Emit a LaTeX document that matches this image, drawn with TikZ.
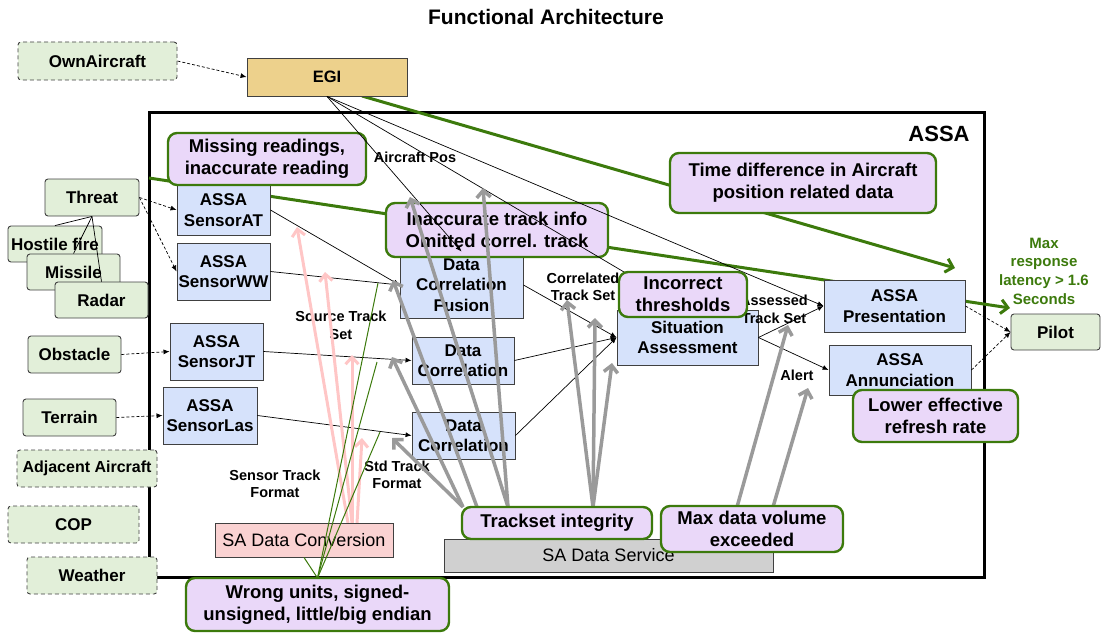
\documentclass[tikz,border=0pt]{standalone}
\usepackage{fontspec}
\setmainfont{Liberation Sans}
\usetikzlibrary{arrows.meta}
\newcommand\myfs[2]{\fontsize{#1}{#2}\selectfont}
\definecolor{lgreen}{HTML}{E2EFD9}
\definecolor{lblue}{HTML}{D6E2FB}
\definecolor{lpurple}{HTML}{EAD8F9}
\definecolor{dgreen}{HTML}{3C7A0C}
\definecolor{egic}{HTML}{EDD18C}
\definecolor{pinkfill}{HTML}{FAD2D2}
\definecolor{sadsc}{HTML}{D0D0D0}
\definecolor{arrgray}{HTML}{9A9A9A}
\definecolor{arrpink}{HTML}{FFC6C6}
\definecolor{bord}{HTML}{404040}
\begin{document}
\begin{tikzpicture}[x=1pt,y=-1pt,
 sz/.style 2 args={minimum width=#1pt,minimum height=#2pt},
 box/.style={draw=bord, line width=0.9pt, inner sep=0pt, align=center, font=\bfseries\myfs{17}{20.5}},
 gbox/.style={box, fill=lgreen, rounded corners=3pt},
 gdash/.style={gbox, dash pattern=on 4pt off 3pt},
 bbox/.style={box, fill=lblue},
 pbox/.style={box, fill=lpurple, draw=dgreen, line width=2.4pt, rounded corners=9pt, font=\bfseries\myfs{18.5}{22}},
 lbl/.style={inner sep=0pt, align=center, font=\bfseries\myfs{14.5}{17.5}},
 conn/.style={draw=black, line width=0.7pt, -{Latex[length=6pt,width=5pt]}},
 dconn/.style={conn, dash pattern=on 3pt off 2pt},
 garr/.style={draw=arrgray, line width=3.5pt, -{Straight Barb[length=7pt,width=14pt]}},
 parr/.style={draw=arrpink, line width=3pt, -{Straight Barb[length=7pt,width=13pt]}},
 gline/.style={draw=dgreen, line width=3pt, -{Straight Barb[length=7pt,width=14pt]}},
 tline/.style={draw=dgreen, line width=1pt},
]
\useasboundingbox (0,0) rectangle (1102,634);
\node[inner sep=0pt, font=\bfseries\myfs{21}{25}] (title) at (546,17) {Functional Architecture};

% frame
\node[draw, line width=3pt, sz={835}{465}, inner sep=0pt] (assa) at (566.5,344.5) {};
\node[inner sep=0pt, font=\bfseries\myfs{22}{26}] (assalbl) at (939,134) {ASSA};

% free coordinates
\coordinate (gs) at (149,178);
\coordinate (ge) at (1010,308);
\coordinate (es) at (362,96);
\coordinate (ee) at (955,268);
\coordinate (t1) at (463,507);
\coordinate (t2) at (477,507);
\coordinate (t3) at (508,507);
\coordinate (t4) at (593,507);
\coordinate (m1) at (737,507);
\coordinate (m2) at (773,507);
\coordinate (ga) at (392,438);
\coordinate (gb) at (392,357);
\coordinate (gc) at (393,280);
\coordinate (gd) at (410,197);
\coordinate (gee) at (483,188);
\coordinate (gf) at (567,300);
\coordinate (gg) at (595,318);
\coordinate (gh) at (612,363);
\coordinate (gi) at (788,325);
\coordinate (gj) at (808,388);
\coordinate (p1s) at (348,523);
\coordinate (p2s) at (352,523);
\coordinate (p4s) at (357,523);
\coordinate (p1) at (297,227);
\coordinate (p2) at (325,272);
\coordinate (p3) at (352,355);
\coordinate (p4) at (362,438);
\coordinate (w1) at (378,283);
\coordinate (w2) at (377,362);
\coordinate (w3) at (380,432);

% thick green lines (behind)
\draw[gline] (gs) -- (ge);
\draw[gline] (es) -- (ee);

% outside nodes
\node[gdash, sz={159}{38}] (own) at (97.5,61) {OwnAircraft};
\node[box, fill=egic, sz={160}{38}, font=\bfseries\myfs{16.5}{20}] (egi) at (327,77) {EGI};
\node[gbox, sz={94}{36}] (hostile) at (55,244) {Hostile fire};
\node[gbox, sz={93}{36}] (missile) at (73.5,272) {Missile};
\node[gbox, sz={93}{36}] (radar) at (101.5,300) {Radar};
\node[gbox, sz={94}{37}] (threat) at (92,197.5) {Threat};
\node[gbox, sz={93}{37}] (obstacle) at (74.5,354.5) {Obstacle};
\node[gbox, sz={93}{37}] (terrain) at (69.5,417.5) {Terrain};
\node[gdash, sz={140}{37}, font=\bfseries\myfs{16}{20}] (adjacent) at (87,468.5) {Adjacent Aircraft};
\node[gdash, sz={131}{37}] (cop) at (73.5,524.5) {COP};
\node[gdash, sz={130}{37}] (weather) at (92,575.5) {Weather};
\node[gbox, sz={89}{36}] (pilot) at (1055.5,332) {Pilot};

\draw[line width=0.7pt] (threat.south) -- (hostile.north);
\draw[line width=0.7pt] (threat.south) -- (missile.north);
\draw[line width=0.7pt] (threat.south) -- (radar.north);

% blue boxes
\node[bbox, sz={93}{50}] (sensAT) at (223.5,210) {ASSA\\SensorAT};
\node[bbox, sz={93}{57}] (sensWW) at (223.5,271.5) {ASSA\\SensorWW};
\node[bbox, sz={93}{57}] (sensJT) at (216.5,351.5) {ASSA\\SensorJT};
\node[bbox, sz={94}{57}] (sensLas) at (210,415.5) {ASSA\\SensorLas};
\node[bbox, sz={123}{66}] (dcf) at (461.5,285) {Data\\Correlation\\Fusion};
\node[bbox, sz={102}{47}] (dc1) at (463,360.5) {Data\\Correlation};
\node[bbox, sz={103}{47}] (dc2) at (463.5,435.5) {Data\\Correlation};
\node[bbox, sz={141}{55}] (sa) at (687.5,337.5) {Situation\\Assessment};
\node[bbox, sz={141}{52}] (pres) at (894.5,306) {ASSA\\Presentation};
\node[bbox, sz={142}{50}] (annun) at (900,370) {ASSA\\Annunciation};

% purple boxes (lower layer)
\node[pbox, sz={198}{52}] (missing) at (267,159) {Missing readings,\\inaccurate reading};
\node[pbox, sz={222}{54}] (inacc) at (497,230) {Inaccurate track info\\Omitted correl. track};
\node[pbox, sz={266}{60}] (timediff) at (803,183) {Time difference in Aircraft\\position related data};

% black connectors
\draw[dconn] (own.east) -- (egi.west);
\draw[dconn] (threat.east) -- (sensAT.west);
\draw[dconn] (threat.east) -- (sensWW.west);
\draw[dconn] (obstacle.east) -- (sensJT.west);
\draw[dconn] (terrain.east) -- (sensLas.west);
\draw[conn] (egi.south) -- (dcf.north);
\draw[conn] (egi.south) -- (sa.north);
\draw[conn] (egi.south) -- (pres.west);
\draw[conn] (sensAT.east) -- (dcf.west);
\draw[conn] (sensWW.east) -- (dcf.west);
\draw[conn] (sensJT.east) -- (dc1.west);
\draw[conn] (sensLas.east) -- (dc2.west);
\draw[conn] (dcf.east) -- (sa.west);
\draw[conn] (dc1.east) -- (sa.west);
\draw[conn] (dc2.east) -- (sa.west);
\draw[conn] (sa.east) -- (pres.west);
\draw[conn] (sa.east) -- (annun.west);
\draw[dconn] (pres.east) -- (pilot.west);
\draw[dconn] (annun.east) -- (pilot.west);

% labels
\node[lbl] (lpos) at (415,157) {Aircraft Pos};
\node[lbl] (lsrc) at (341,325.5) {Source Track\\Set};
\node[lbl] (lsens) at (275,484) {Sensor Track\\Format};
\node[lbl] (lstd) at (397,475) {Std Track\\Format};
\node[lbl] (lcorr) at (583,287) {Correlated\\Track Set};
\node[lbl] (lass) at (774,309.5) {Assessed\\Track Set};
\node[lbl] (lalert) at (797,375) {Alert};
\node[lbl, text=dgreen, font=\bfseries\myfs{15}{18.7}] (llat) at (1044,271) {Max\\response\\latency > 1.6\\Seconds};

% upper purple boxes
\node[pbox, sz={128}{45}] (incorr) at (683,294.5) {Incorrect\\thresholds};
\node[pbox, sz={165}{52}] (lower) at (935.5,416) {Lower effective\\refresh rate};

% pink arrows
\draw[parr] (p1s) -- (p1);
\draw[parr] (p2s) -- (p2);
\draw[parr] (p2s) -- (p3);
\draw[parr] (p4s) -- (p4);

% gray arrows
\draw[garr] (t1) -- (ga);
\draw[garr] (t1) -- (gb);
\draw[garr] (t2) -- (gc);
\draw[garr] (t3) -- (gd);
\draw[garr] (t3) -- (gee);
\draw[garr] (t4) -- (gf);
\draw[garr] (t4) -- (gg);
\draw[garr] (t4) -- (gh);
\draw[garr] (m1) -- (gi);
\draw[garr] (m2) -- (gj);

% SA data boxes
\node[box, fill=pinkfill, sz={178}{34}, font=\myfs{18}{21}] (sadc) at (304,540) {SA Data Conversion};
\node[box, fill=sadsc, sz={329}{33}, font=\myfs{18}{21}] (sads) at (608.5,555.5) {SA Data Service};

% thin green lines
\draw[tline] (317.5,578) -- (w1);
\draw[tline] (317.5,578) -- (w2);
\draw[tline] (317.5,578) -- (w3);
\draw[tline] (317.5,578) -- (sadc.south);

% bottom purple boxes
\node[pbox, sz={190}{32}] (trackset) at (557,523) {Trackset integrity};
\node[pbox, sz={182}{46}] (maxdata) at (752,529) {Max data volume\\exceeded};
\node[pbox, sz={263}{53}] (wrong) at (317.5,604.5) {Wrong units, signed-\\unsigned, little/big endian};
\end{tikzpicture}
\end{document}
